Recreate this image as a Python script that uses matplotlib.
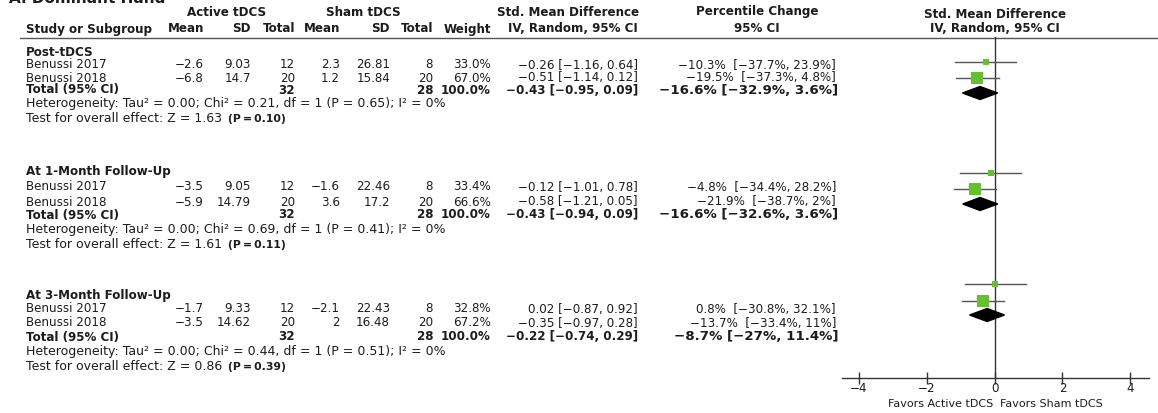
import matplotlib
matplotlib.use("Agg")
import matplotlib.pyplot as plt
from matplotlib.patches import Polygon

# ---------------- data ----------------
panel_title = "A. Dominant Hand"
subgroups = ["Post-tDCS", "At 1-Month Follow-Up", "At 3-Month Follow-Up"]
studies = ["Benussi 2017", "Benussi 2018"]
active_mean = [[-2.6, -6.8], [-3.5, -5.9], [-1.7, -3.5]]
active_sd = [[9.03, 14.7], [9.05, 14.79], [9.33, 14.62]]
active_n = [12, 20]
sham_mean = [[2.3, 1.2], [-1.6, 3.6], [-2.1, 2]]
sham_sd = [[26.81, 15.84], [22.46, 17.2], [22.43, 16.48]]
sham_n = [8, 20]
weights = [[33.0, 67.0], [33.4, 66.6], [32.8, 67.2]]
smd = [[-0.26, -0.51], [-0.12, -0.58], [0.02, -0.35]]
smd_lo = [[-1.16, -1.14], [-1.01, -1.21], [-0.87, -0.97]]
smd_hi = [[0.64, 0.12], [0.78, 0.05], [0.92, 0.28]]
tot_smd = [-0.43, -0.43, -0.22]
tot_lo = [-0.95, -0.94, -0.74]
tot_hi = [0.09, 0.09, 0.29]
pct = [[-10.3, -19.5], [-4.8, -21.9], [0.8, -13.7]]
pct_lo = [[-37.7, -37.3], [-34.4, -38.7], [-30.8, -33.4]]
pct_hi = [[23.9, 4.8], [28.2, 2], [32.1, 11]]
tot_pct = [-16.6, -16.6, -8.7]
tot_pct_lo = [-32.9, -32.6, -27]
tot_pct_hi = [3.6, 3.6, 11.4]
tau2 = [0.00, 0.00, 0.00]
chi2 = [0.21, 0.69, 0.44]
het_df = [1, 1, 1]
het_p = [0.65, 0.41, 0.51]
i2 = [0, 0, 0]
z_val = [1.63, 1.61, 0.86]
z_p = [0.10, 0.11, 0.39]
xticks = [-4, -2, 0, 2, 4]
favors = ["Favors Active tDCS", "Favors Sham tDCS"]

# ---------------- layout (pixels) ----------------
W, H = 1158, 413
TXT = "#1c1c1c"
GREEN = "#66bf2e"
FS = 8.6
FS_NOTE = 9.0
row_y = [[52, 65, 78, 90, 104, 118],
         [172, 187, 202, 215, 229, 244],
         [295, 309, 323, 337, 352, 367]]
mark_y = [[62, 78, 93], [173, 189, 204], [284, 301, 315]]


def fmt(v):
    return f"{v:g}".replace("-", "\u2212")


def f2(v):
    return f"{v:.2f}".replace("-", "\u2212")


fig = plt.figure(figsize=(W / 100, H / 100), dpi=100)
tax = fig.add_axes([0, 0, 1, 1])
tax.set_xlim(0, W)
tax.set_ylim(H, 0)
tax.axis("off")


def t(x, y, s, ha="left", bold=False, size=FS, **kw):
    tax.text(x, y, s, ha=ha, va="center", fontsize=size,
             fontweight="bold" if bold else "normal", color=TXT,
             family="DejaVu Sans", **kw)


# panel title (cut off at the top edge, as in the reference)
tax.text(9, 3, panel_title, ha="left", va="baseline", fontsize=11,
         fontweight="bold", color=TXT)

# headers
t(227, 12, "Active tDCS", "center", True)
t(363, 12, "Sham tDCS", "center", True)
t(568, 12, "Std. Mean Difference", "center", True)
t(757, 12, "Percentile Change", "center", True)
t(995, 14, "Std. Mean Difference", "center", True)
t(26, 29, "Study or Subgroup", "left", True)
t(204, 29, "Mean", "right", True)
t(251, 29, "SD", "right", True)
t(295, 29, "Total", "right", True)
t(340, 29, "Mean", "right", True)
t(390, 29, "SD", "right", True)
t(433, 29, "Total", "right", True)
t(491, 29, "Weight", "right", True)
t(638, 29, "IV, Random, 95% CI", "right", True)
t(780, 29, "95% CI", "right", True)
t(995, 29, "IV, Random, 95% CI", "center", True)
tax.plot([20, W], [37.5, 37.5], color="#555555", lw=1.0)

for g, name in enumerate(subgroups):
    ys = row_y[g]
    t(26, ys[0], name, "left", True)
    for i, st in enumerate(studies):
        y = ys[1 + i]
        t(26, y, st)
        t(204, y, fmt(active_mean[g][i]), "right")
        t(251, y, fmt(active_sd[g][i]), "right")
        t(295, y, str(active_n[i]), "right")
        t(340, y, fmt(sham_mean[g][i]), "right")
        t(390, y, fmt(sham_sd[g][i]), "right")
        t(433, y, str(sham_n[i]), "right")
        t(491, y, f"{weights[g][i]:.1f}%", "right")
        t(638, y, f"{f2(smd[g][i])} [{f2(smd_lo[g][i])}, {f2(smd_hi[g][i])}]", "right")
        t(836, y, f"{fmt(pct[g][i])}%  [{fmt(pct_lo[g][i])}%, {fmt(pct_hi[g][i])}%]", "right")
    y = ys[3]
    t(26, y, "Total (95% CI)", "left", True)
    t(295, y, str(sum(active_n)), "right", True)
    t(433, y, str(sum(sham_n)), "right", True)
    t(491, y, f"{sum(weights[g]):.1f}%", "right", True)
    t(638, y, f"{f2(tot_smd[g])} [{f2(tot_lo[g])}, {f2(tot_hi[g])}]", "right", True)
    t(838, y, f"{fmt(tot_pct[g])}% [{fmt(tot_pct_lo[g])}%, {fmt(tot_pct_hi[g])}%]",
      "right", True, size=9.6)
    t(26, ys[4], f"Heterogeneity: Tau\u00b2 = {tau2[g]:.2f}; Chi\u00b2 = {chi2[g]:.2f}, "
      f"df = {het_df[g]} (P = {het_p[g]:.2f}); I\u00b2 = {i2[g]}%", size=FS_NOTE)
    t(26, ys[5], f"Test for overall effect: Z = {z_val[g]:.2f}", size=FS_NOTE)
    t(228, ys[5] + 0.5, f"(P\u2009=\u2009{z_p[g]:.2f})", "left", True, size=7.8)

# ---------------- forest plot ----------------
ax_l, ax_r, ax_t, ax_b = 842, 1149, 37, 378
fax = fig.add_axes([ax_l / W, (H - ax_b) / H, (ax_r - ax_l) / W, (ax_b - ax_t) / H])
fax.set_xlim(-4.5, 4.55)
fax.set_ylim(ax_b, ax_t)
fax.patch.set_alpha(0)
for s in ["left", "right", "top"]:
    fax.spines[s].set_visible(False)
fax.spines["bottom"].set_color("#333333")
fax.spines["bottom"].set_linewidth(1.0)
fax.set_yticks([])
fax.set_xticks(xticks)
fax.set_xticklabels([fmt(v) for v in xticks])
fax.tick_params(axis="x", direction="inout", length=8, width=1.0, color="#333333",
                labelsize=8.6, labelcolor=TXT, pad=-1)
fax.axvline(0, color="#333333", lw=1.0, zorder=1)

for g in range(len(subgroups)):
    for i in range(len(studies)):
        y = mark_y[g][i]
        fax.plot([smd_lo[g][i], smd_hi[g][i]], [y, y], color="#555555", lw=1.0, zorder=2)
        side = weights[g][i] * 0.19
        fax.plot([smd[g][i]], [y], marker="s", markersize=side * 0.72,
                 color=GREEN, markeredgewidth=0, zorder=3)
    yd = mark_y[g][2]
    hh = 6.5
    dia = Polygon([[tot_lo[g], yd], [tot_smd[g], yd - hh], [tot_hi[g], yd],
                   [tot_smd[g], yd + hh]], closed=True, color="black", zorder=3)
    fax.add_patch(dia)

tax.text(993, 404, favors[0], ha="right", va="center", fontsize=8, color=TXT)
tax.text(1000, 404, favors[1], ha="left", va="center", fontsize=8, color=TXT)

fig.savefig("out.png", dpi=100)
